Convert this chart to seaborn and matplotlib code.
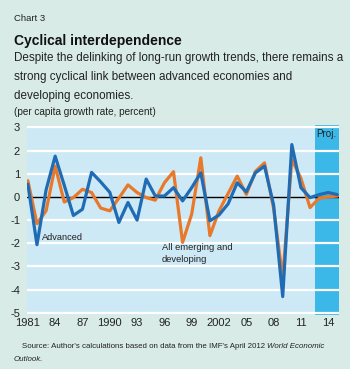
import numpy as np
import pandas as pd
import matplotlib
matplotlib.use("Agg")
import matplotlib.pyplot as plt
import seaborn as sns

# Data (per capita growth rate, percent)
years = list(range(1981, 2016))
advanced = [0.55, -2.06, 0.3, 1.76, 0.5, -0.8, -0.53, 1.06, 0.65, 0.2,
            -1.1, -0.24, -1.0, 0.77, 0.04, 0.04, 0.4, -0.17, 0.4, 1.04,
            -1.03, -0.78, -0.3, 0.61, 0.22, 1.04, 1.33, -0.35, -4.3, 2.26,
            0.4, -0.03, 0.1, 0.19, 0.1]
emerging = [0.7, -1.15, -0.6, 1.33, -0.22, -0.03, 0.33, 0.19, -0.48, -0.6,
            -0.05, 0.52, 0.19, -0.03, -0.14, 0.61, 1.09, -1.96, -0.74, 1.69,
            -1.67, -0.6, 0.15, 0.9, 0.11, 1.1, 1.47, -0.5, -3.5, 1.62,
            0.8, -0.46, -0.06, 0.0, 0.04]
tick_years = [1981, 1984, 1987, 1990, 1993, 1996, 1999, 2002, 2005, 2008, 2011, 2014]
tick_labels = ["1981", "84", "87", "1990", "93", "96", "99", "2002", "05", "08", "11", "14"]
y_ticks = [-5, -4, -3, -2, -1, 0, 1, 2, 3]
proj_start = 2012.5

df = pd.DataFrame({
    "year": years * 2,
    "growth": emerging + advanced,
    "group": ["emerging"] * len(years) + ["advanced"] * len(years),
})

sns.set_style("white")
plt.rcParams["font.family"] = ["Liberation Sans", "DejaVu Sans"]

bg = "#d8ebe6"
plot_bg = "#cde9f6"
proj_bg = "#3cb8e8"
ink = "#222222"

fig = plt.figure(figsize=(3.5, 3.69), dpi=100, facecolor=bg)
ax = fig.add_axes([0.077, 0.146, 0.892, 0.515])
ax.set_facecolor(plot_bg)
renderer = fig.canvas.get_renderer()


def fit_width(t, px):
    # resize a text so it spans about the same width as in the reference
    w = t.get_window_extent(renderer).width
    t.set_fontsize(t.get_fontsize() * px / w)
    return t


ax.axvspan(proj_start, 2015.2, color=proj_bg, zorder=0, lw=0)
for y in y_ticks:
    if y != 0:
        ax.axhline(y, color="white", lw=1.6, zorder=1)
ax.axhline(0, color="black", lw=1.0, zorder=2)

sns.lineplot(data=df, x="year", y="growth", hue="group",
             palette={"emerging": "#e8792a", "advanced": "#1f6cb4"},
             hue_order=["emerging", "advanced"], linewidth=2.3,
             legend=False, ax=ax, zorder=3)

ax.set_xlim(1980.9, 2015.2)
ax.set_ylim(-5.1, 3.1)
ax.set_xticks(years, minor=True)
ax.set_xticks(tick_years)
ax.set_xticklabels(tick_labels)
ax.set_yticks(y_ticks)
ax.set_yticklabels([str(v) for v in y_ticks])
ax.tick_params(axis="x", which="both", direction="in", length=5, width=1,
               color="black", labelsize=8, pad=2, labelcolor=ink)
ax.tick_params(axis="y", length=0, labelsize=8, pad=5, labelcolor=ink)
ax.set_xlabel("")
ax.set_ylabel("")
for s in ax.spines.values():
    s.set_visible(False)

fit_width(ax.text(1982.5, -1.77, "Advanced", fontsize=7, color=ink, va="center"), 41)
t = ax.text(1995.7, -1.97, "All emerging and", fontsize=7, color=ink, va="top")
fit_width(t, 70)
ax.text(1995.7, -2.52, "developing", fontsize=t.get_fontsize(), color=ink, va="top")
fit_width(ax.text(2013.85, 2.95, "Proj.", fontsize=7, color=ink, ha="center", va="top"), 20)

fit_width(fig.text(0.04, 0.942, "Chart 3", fontsize=7, color=ink, va="baseline"), 31)
fit_width(fig.text(0.04, 0.878, "Cyclical interdependence", fontsize=10,
                   fontweight="bold", color="#111111", va="baseline"), 168)
sub = ["Despite the delinking of long-run growth trends, there remains a",
       "strong cyclical link between advanced economies and",
       "developing economies."]
t = fit_width(fig.text(0.04, 0.835, sub[0], fontsize=9, color=ink, va="baseline"), 328)
fig.text(0.04, 0.783, sub[1], fontsize=t.get_fontsize(), color=ink, va="baseline")
fig.text(0.04, 0.731, sub[2], fontsize=t.get_fontsize(), color=ink, va="baseline")
fit_width(fig.text(0.04, 0.688, "(per capita growth rate, percent)", fontsize=7,
                   color=ink, va="baseline"), 142)

src = fig.text(0.063, 0.057,
               "Source: Author's calculations based on data from the IMF's April 2012 ",
               fontsize=6, color=ink, va="baseline")
fit_width(src, 250)
fs = src.get_fontsize()
x_end = src.get_window_extent(renderer).x1 / fig.bbox.width
fig.text(x_end, 0.057, "World Economic", fontsize=fs, style="italic",
         color=ink, va="baseline")
fig.text(0.04, 0.022, "Outlook.", fontsize=fs, style="italic",
         color=ink, va="baseline")

fig.savefig("out.png", dpi=100, facecolor=bg)
